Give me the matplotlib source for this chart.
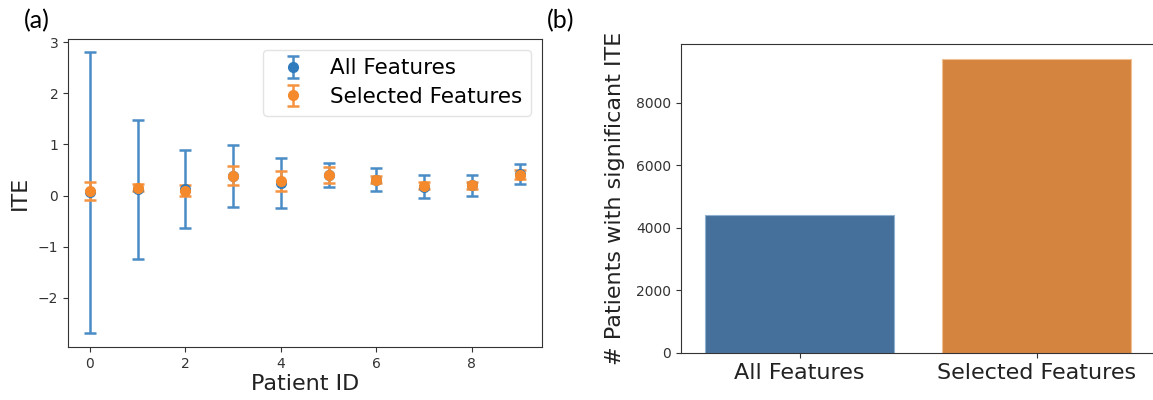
import matplotlib
matplotlib.use("Agg")
import matplotlib.pyplot as plt
import numpy as np

# ---- data ----
patient_ids = [0, 1, 2, 3, 4, 5, 6, 7, 8, 9]
all_mean = [0.06, 0.12, 0.13, 0.38, 0.24, 0.41, 0.31, 0.17, 0.20, 0.42]
all_err = [2.75, 1.36, 0.76, 0.60, 0.49, 0.235, 0.22, 0.225, 0.20, 0.195]
sel_mean = [0.09, 0.15, 0.095, 0.385, 0.28, 0.40, 0.31, 0.19, 0.20, 0.41]
sel_err = [0.17, 0.07, 0.105, 0.185, 0.20, 0.16, 0.07, 0.07, 0.07, 0.08]

bar_labels = ["All Features", "Selected Features"]
bar_values = [4420, 9410]
bar_colors = ["#45709c", "#d4843f"]

series_labels = ["All Features", "Selected Features"]
series_colors = ["#2f7bbd", "#f58a2c"]

plt.rcParams['font.family'] = ['DejaVu Sans']

fig = plt.figure(figsize=(11.53, 4.0), dpi=100)

spine_color = "#333333"
tick_color = "#333333"

# ---- left panel ----
ax1 = fig.add_axes([68/1153, 53/400, 474/1153, 308/400])
ax1.errorbar(patient_ids, all_mean, yerr=all_err, fmt='o', color=series_colors[0],
             ecolor="#4a8cc6", elinewidth=1.8, capsize=4, capthick=1.8,
             markersize=7, label=series_labels[0])
ax1.errorbar(patient_ids, sel_mean, yerr=sel_err, fmt='o', color=series_colors[1],
             ecolor="#f59340", elinewidth=1.8, capsize=4, capthick=1.8,
             markersize=7, label=series_labels[1])
ax1.set_xlim(-0.46, 9.47)
ax1.set_ylim(-2.96, 3.06)
ax1.set_xticks([0, 2, 4, 6, 8])
ax1.set_yticks([-2, -1, 0, 1, 2, 3])
ax1.set_yticklabels(["\u22122", "\u22121", "0", "1", "2", "3"])
ax1.set_xlabel("Patient ID", fontsize=16, color="#222222", labelpad=2)
ax1.set_ylabel("ITE", fontsize=16, color="#222222", labelpad=6)
ax1.tick_params(labelsize=10, colors=tick_color, length=3.5)
for s in ax1.spines.values():
    s.set_color(spine_color)
leg = ax1.legend(loc="upper right", fontsize=15.5, frameon=True, borderpad=0.4,
                 handletextpad=0.75, labelspacing=0.4)
leg.get_frame().set_edgecolor("#dddddd")

# ---- right panel ----
ax2 = fig.add_axes([681/1153, 47/400, 474/1153, 309/400])
xpos = np.arange(len(bar_labels))
ax2.bar(xpos, bar_values, width=0.8, color=bar_colors, edgecolor=["#8fb0d0", "#f0c090"],
        linewidth=0.8)
ax2.set_xlim(-0.5, 1.5)
ax2.set_ylim(0, 9880)
ax2.set_xticks(xpos)
ax2.set_xticklabels(bar_labels, fontsize=16, color="#222222")
ax2.set_yticks([0, 2000, 4000, 6000, 8000])
ax2.set_ylabel("# Patients with significant ITE", fontsize=16, color="#222222", labelpad=8)
ax2.tick_params(axis='y', labelsize=10, colors=tick_color, length=3.5)
ax2.tick_params(axis='x', colors=tick_color, length=3.5)
for lbl in ax2.get_xticklabels():
    lbl.set_color("#222222")
for s in ax2.spines.values():
    s.set_color(spine_color)

# panel labels
fig.text(37/1153, 1 - 21/400, "(a)", fontsize=18, family=["Lato", "DejaVu Sans"],
         ha="center", va="center")
fig.text(561/1153, 1 - 21/400, "(b)", fontsize=18, family=["Lato", "DejaVu Sans"],
         ha="center", va="center")

fig.savefig("out.png", dpi=100)
